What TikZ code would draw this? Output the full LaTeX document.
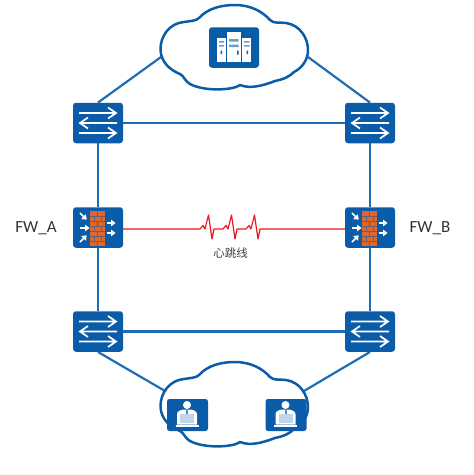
\documentclass[tikz,border=0pt]{standalone}
\usepackage{fontspec}
\setmainfont{Carlito}
\newfontfamily\cjkfont{Noto Sans CJK SC}
\definecolor{hwblue}{HTML}{0B5CA8}
\definecolor{linkblue}{HTML}{1F6DB5}
\definecolor{brick}{HTML}{E2662A}
\definecolor{beat}{HTML}{F0141E}
\tikzset{
  devbox/.style={fill=hwblue,rounded corners=3pt,minimum width=50pt,minimum height=40.5pt,inner sep=0pt,draw=none},
  smallbox/.style={fill=hwblue,rounded corners=2.5pt,minimum width=41pt,minimum height=32pt,inner sep=0pt,draw=none},
  link/.style={draw=linkblue,line width=2.2pt},
  cloudline/.style={draw=hwblue,line width=2.5pt,fill=white,line join=round},
  beatline/.style={draw=beat,line width=1.2pt,line join=round},
  wline/.style={draw=white,line width=1.7pt},
  lbl/.style={font=\fontsize{17}{19}\selectfont,text=black!80,inner sep=0pt},
  cjklbl/.style={font=\cjkfont\fontsize{11.5}{13}\selectfont,text=black!75,inner sep=0pt},
  pics/switchpic/.style={code={
    \draw[wline] (-19,-10)--(18,-10) (10,-15.5)--(18,-10)--(10,-4.5);
    \draw[wline] (19,0)--(-18,0) (-10,-5.5)--(-18,0)--(-10,5.5);
    \draw[wline] (-19,10)--(18,10) (10,4.5)--(18,10)--(10,15.5);
  }},
  pics/firewallpic/.style={code={
    \fill[brick] (-8,-16.5) rectangle (7,18);
    \foreach \y in {-11.5,-6.5,-1.5,3.5,8.5,13.5}{\draw[hwblue!60!brick,line width=.6pt] (-8,\y)--(7,\y);}
    \foreach \y/\x in {-14/-0.5,-9/-4,-9/3,-4/-0.5,1/-4,1/3,6/-0.5,11/-4,11/3,16/-0.5}{\draw[hwblue!60!brick,line width=.5pt] (\x,\y-2.3)--(\x,\y+2.3);}
    \foreach \a/\x/\y in {-45/-18/-14.5,0/-18/0.5,45/-18/14.5}{
      \begin{scope}[shift={(\x,\y)},rotate=\a]
        \draw[white,line width=1.6pt] (0,0)--(6,0);
        \fill[white] (5,-3.4)--(9.5,0)--(5,3.4)--cycle;
      \end{scope}}
    \foreach \y in {-4.5,5.5}{
      \draw[white,line width=1.6pt] (9,\y)--(14,\y);
      \fill[white] (13,\y-3.4)--(17.5,\y)--(13,\y+3.4)--cycle;}
  }},
  pics/serverpic/.style={code={
    \fill[white] (-7.5,-15.5) rectangle (7,14.5);
    \fill[white] (-17,-9.5) rectangle (-8.5,14.5);
    \fill[white] (8,-9.5) rectangle (17,14.5);
    \fill[hwblue!60] (-5,-8.5) rectangle (4.5,-6) (-5,-3) rectangle (4.5,-0.5);
    \fill[hwblue!60] (-15,-6.5) rectangle (-10,-5) (-15,-2.5) rectangle (-10,-1);
    \fill[hwblue!60] (10,-6.5) rectangle (15.5,-5) (10,-2.5) rectangle (15.5,-1);
    \fill[hwblue] (3,3) rectangle (4.5,7) (-13.5,3) rectangle (-12,6.5) (12.5,3) rectangle (14,6.5);
  }},
  pics/personpic/.style={code={
    \fill[white] (-0.5,-10) circle (4);
    \fill[white] (-10.5,9.5) -- (-10.5,-1) .. controls (-10.5,-4) and (-6,-5.5) .. (-3,-5.5) -- (2,-5.5) .. controls (5,-5.5) and (9.5,-4) .. (9.5,-1) -- (9.5,9.5) -- cycle;
    \fill[hwblue!70] (-1.5,-5.5) rectangle (0.5,-1.5);
    \fill[hwblue!25] (-7.5,-1) rectangle (6.5,8);
    \draw[white,line width=1.2pt] (-12,11)--(11,11);
  }},
  pics/cloudpic/.style={code={
    \draw[cloudline] (160.5,50)
      .. controls (160,36) and (170,23) .. (184,22)
      .. controls (190,21) and (196,21) .. (199,18)
      .. controls (208,8) and (222,5) .. (235,5)
      .. controls (250,5) and (262,11) .. (270,20)
      .. controls (274,24) and (280,22) .. (286,23)
      .. controls (300,25) and (308,38) .. (308,50)
      .. controls (308,60) and (302,68) .. (294,72)
      .. controls (290,76) and (285,79) .. (275,81)
      .. controls (262,86) and (250,89) .. (240,85)
      .. controls (234,90) and (205,92) .. (190,84)
      .. controls (184,80) and (184,76) .. (180,74)
      .. controls (170,70) and (161,62) .. (160.5,50) -- cycle;
  }}
}
\begin{document}
\begin{tikzpicture}[x=1pt,y=-1pt]
\useasboundingbox (0,0) rectangle (474,475);
\coordinate (ctl) at (161,57);
\coordinate (ctr) at (308,57);
\coordinate (cbl) at (165,391);
\coordinate (cbr) at (304,391);
% connector ends are the device nodes, declared first
\path node[devbox,fill=none] (swa) at (98,123) {}
      node[devbox,fill=none] (swb) at (370,123) {}
      node[devbox,fill=none] (fwa) at (98,227.5) {}
      node[devbox,fill=none] (fwb) at (370,227.5) {}
      node[devbox,fill=none] (swc) at (98,331.5) {}
      node[devbox,fill=none] (swd) at (370,331.5) {};
% connectors
\draw[link] (swa) -- (swb);
\draw[link] (swc) -- (swd);
\draw[link] (swa) -- (fwa);
\draw[link] (fwa) -- (swc);
\draw[link] (swb) -- (fwb);
\draw[link] (fwb) -- (swd);
\draw[link] (ctl) -- (swa.north);
\draw[link] (ctr) -- (swb.north);
\draw[link] (cbl) -- (swc.south);
\draw[link] (cbr) -- (swd.south);
% device boxes over the connectors
\node[devbox] at (swa) {};
\node[devbox] at (swb) {};
\node[devbox] at (fwa) {};
\node[devbox] at (fwb) {};
\node[devbox] at (swc) {};
\node[devbox] at (swd) {};
\pic at (swa) {switchpic};
\pic at (swb) {switchpic};
\pic at (swc) {switchpic};
\pic at (swd) {switchpic};
\pic at (fwa) {firewallpic};
\pic at (fwb) {firewallpic};
% heartbeat
\draw[beatline] (fwa.east |- 0,229) -- (200,229)
  -- (203,225.5) -- (205,229) -- (208.5,215) -- (212,239) -- (214,229) -- (223,229)
  -- (226,225.5) -- (228,229) -- (231.5,215) -- (235,239) -- (237,229) -- (246,229)
  -- (249,225.5) -- (251,229) -- (254.5,215) -- (258,239) -- (260,229) -- (fwb.west |- 0,229);
% clouds
\pic at (0,0) {cloudpic};
\pic at (0,357) {cloudpic};
\node[devbox] (srv) at (234,47.5) {};
\pic at (srv) {serverpic};
\node[smallbox] (pca) at (187.5,415) {};
\node[smallbox] (pcb) at (286,415) {};
\pic at (pca) {personpic};
\pic at (pcb) {personpic};
% labels
\node[lbl] (la) at (36,228) {FW\_A};
\node[lbl] (lb) at (430,228) {FW\_B};
\node[cjklbl] (hb) at (230.5,253) {心跳线};
\end{tikzpicture}
\end{document}
